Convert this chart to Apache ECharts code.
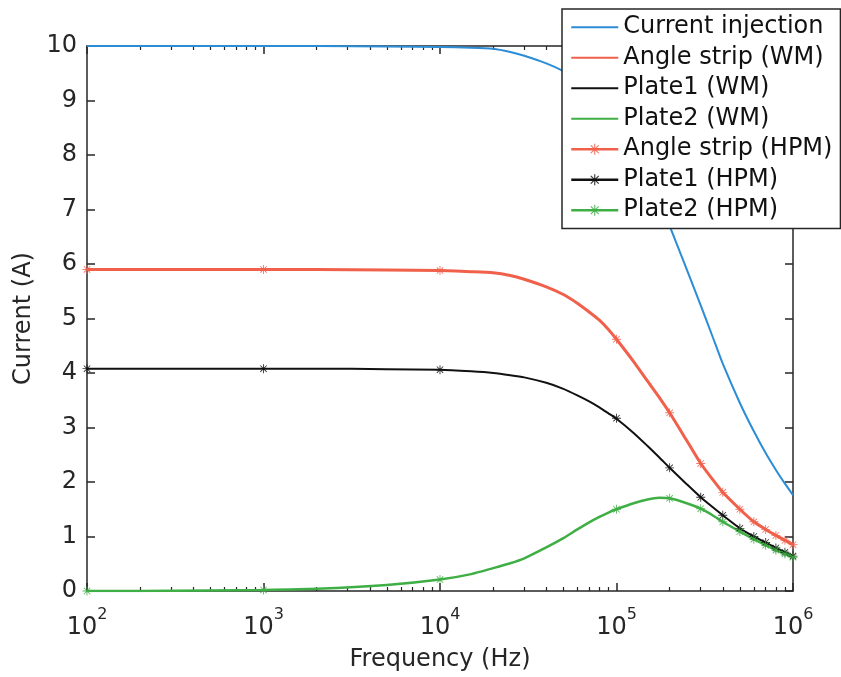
<!DOCTYPE html>
<html><head><meta charset="utf-8">
<script src="https://cdn.jsdelivr.net/npm/echarts@6/dist/echarts.min.js"></script>
<style>html,body{margin:0;padding:0;background:#fff}#c{width:841px;height:677px}</style>
</head><body><div id="c"></div>
<script>
// ---- data ----
const freq = [100,200,500,1e3,2e3,5e3,1e4,1.5e4,2e4,2.5e4,3e4,4e4,5e4,6e4,7e4,8e4,9e4,1e5,1.25e5,1.5e5,1.75e5,2e5,2.5e5,3e5,3.5e5,4e5,5e5,6e5,7e5,8e5,9e5,1e6];
const currentInjection = [10,10,10,10,10,9.99,9.98,9.97,9.95,9.89,9.82,9.68,9.54,9.40,9.25,9.10,8.93,8.75,8.25,7.70,7.18,6.70,5.90,5.24,4.67,4.17,3.45,2.93,2.53,2.22,1.97,1.76];
const angleStripWM = [5.90,5.90,5.90,5.90,5.90,5.89,5.88,5.86,5.84,5.79,5.72,5.58,5.44,5.28,5.12,4.97,4.80,4.62,4.21,3.85,3.55,3.27,2.76,2.34,2.05,1.81,1.50,1.27,1.13,1.02,0.93,0.85];
const plate1WM = [4.08,4.08,4.08,4.08,4.08,4.07,4.06,4.03,4.00,3.96,3.92,3.82,3.71,3.59,3.48,3.37,3.26,3.16,2.90,2.66,2.45,2.26,1.96,1.72,1.54,1.39,1.15,1.00,0.89,0.79,0.71,0.64];
const plate2WM = [0,0,0.01,0.02,0.04,0.11,0.21,0.31,0.42,0.51,0.60,0.80,0.97,1.13,1.26,1.36,1.44,1.50,1.61,1.68,1.71,1.70,1.61,1.51,1.39,1.27,1.09,0.95,0.84,0.75,0.68,0.62];

const freqHPM = [100,1e3,1e4,1e5,2e5,3e5,4e5,5e5,6e5,7e5,8e5,9e5,1e6];
const angleStripHPM = [5.90,5.90,5.88,4.62,3.27,2.34,1.81,1.50,1.27,1.13,1.02,0.93,0.85];
const plate1HPM = [4.08,4.08,4.06,3.17,2.26,1.72,1.39,1.15,1.00,0.89,0.79,0.71,0.64];
const plate2HPM = [0.00,0.02,0.21,1.50,1.70,1.51,1.27,1.09,0.95,0.84,0.75,0.68,0.62];

const majorTicksX = [100,1e3,1e4,1e5,1e6];
const minorMultipliers = [2,3,4,5,6,7,8,9];
const seriesNames = ['Current injection','Angle strip (WM)','Plate1 (WM)','Plate2 (WM)','Angle strip (HPM)','Plate1 (HPM)','Plate2 (HPM)'];

// ---- styling ----
const BLUE='#2B8DD6', RED='#F0604B', BLACK='#111111', GREEN='#3FAF45', AX='#262626';
const FONT='DejaVu Sans';
const star='path://M4.5,0L5.5,0L5.5,10L4.5,10Z M0,4.5L10,4.5L10,5.5L0,5.5Z M1.1,1.8L1.8,1.1L8.9,8.2L8.2,8.9Z M8.2,1.1L8.9,1.8L1.8,8.9L1.1,8.2Z';
const lineIcon='path://M0,0L47,0L47,2L0,2Z';

const minorTicksX = [];
for (let i=0;i<majorTicksX.length-1;i++) minorMultipliers.forEach(m=>minorTicksX.push(m*majorTicksX[i]));

const pairs=(xs,ys)=>xs.map((x,i)=>[x,ys[i]]);

function wm(name,ys,color,w){
  return {name,type:'line',xAxisIndex:0,yAxisIndex:0,data:pairs(freq,ys),symbol:'none',
    smooth:0.2,color,lineStyle:{color,width:w},z:3};
}
function hpm(name,ys,color){
  return {name,type:'line',xAxisIndex:0,yAxisIndex:0,data:pairs(freqHPM,ys),symbol:star,symbolSize:9,
    showSymbol:true,showAllSymbol:true,color,itemStyle:{color,opacity:0.85},lineStyle:{width:0,opacity:0},z:4};
}
const axLine={show:true,lineStyle:{color:AX,width:1.5}};
const logBase={type:'log',logBase:10,min:100,max:1e6,gridIndex:0,splitLine:{show:false}};

const option={
  animation:false,
  backgroundColor:'#fff',
  grid:{left:87,right:48,top:46,bottom:80,containLabel:false},
  legend:{
    orient:'vertical',left:562,top:9,itemGap:0,itemWidth:47,itemHeight:14,
    padding:[3,8,3,8],backgroundColor:'#fff',borderColor:AX,borderWidth:1.5,borderRadius:0,
    textStyle:{fontFamily:FONT,fontSize:24,color:'#111',lineHeight:30.5},
    data:[
      {name:seriesNames[0],icon:lineIcon},{name:seriesNames[1],icon:lineIcon},
      {name:seriesNames[2],icon:lineIcon},{name:seriesNames[3],icon:lineIcon},
      {name:seriesNames[4],lineStyle:{width:2.5,opacity:1,color:RED}},
      {name:seriesNames[5],lineStyle:{width:2.5,opacity:1,color:BLACK}},
      {name:seriesNames[6],lineStyle:{width:2.5,opacity:1,color:GREEN}}
    ]
  },
  xAxis:[
    Object.assign({},logBase,{position:'bottom',axisLine:axLine,
      axisTick:{show:true,inside:true,length:8,lineStyle:{color:AX,width:1.5},customValues:majorTicksX},
      axisLabel:{show:true,margin:16,customValues:majorTicksX,
        formatter:v=>'{b|10}{s|'+Math.round(Math.log10(v))+'}',
        rich:{b:{fontFamily:FONT,fontSize:24,color:AX,lineHeight:33,verticalAlign:'bottom'},
              s:{fontFamily:FONT,fontSize:16,color:AX,lineHeight:14,verticalAlign:'top'}}},
      name:'Frequency (Hz)',nameLocation:'middle',nameGap:57,
      nameTextStyle:{fontFamily:FONT,fontSize:24,color:AX}}),
    Object.assign({},logBase,{position:'bottom',axisLine:{show:false},
      axisTick:{show:true,inside:true,length:4,lineStyle:{color:AX,width:1.2},customValues:minorTicksX},
      axisLabel:{show:false}}),
    Object.assign({},logBase,{position:'top',axisLine:axLine,
      axisTick:{show:true,inside:true,length:8,lineStyle:{color:AX,width:1.5},customValues:majorTicksX},
      axisLabel:{show:false}}),
    Object.assign({},logBase,{position:'top',axisLine:{show:false},
      axisTick:{show:true,inside:true,length:4,lineStyle:{color:AX,width:1.2},customValues:minorTicksX},
      axisLabel:{show:false}})
  ],
  yAxis:[
    {type:'value',min:0,max:10,interval:1,position:'left',gridIndex:0,axisLine:axLine,splitLine:{show:false},
     axisTick:{show:true,inside:true,length:8,lineStyle:{color:AX,width:1.5}},
     axisLabel:{fontFamily:FONT,fontSize:24,color:AX,margin:10},
     name:'Current (A)',nameLocation:'middle',nameGap:37,nameRotate:90,
     nameTextStyle:{fontFamily:FONT,fontSize:24,color:AX}},
    {type:'value',min:0,max:10,interval:1,position:'right',gridIndex:0,axisLine:axLine,splitLine:{show:false},
     axisTick:{show:true,inside:true,length:8,lineStyle:{color:AX,width:1.5}},axisLabel:{show:false}}
  ],
  series:[
    wm(seriesNames[0],currentInjection,BLUE,2),
    wm(seriesNames[1],angleStripWM,RED,3),
    wm(seriesNames[2],plate1WM,BLACK,2),
    wm(seriesNames[3],plate2WM,GREEN,2.5),
    hpm(seriesNames[4],angleStripHPM,RED),
    hpm(seriesNames[5],plate1HPM,BLACK),
    hpm(seriesNames[6],plate2HPM,GREEN)
  ]
};
const chart=echarts.init(document.getElementById('c'),null,{renderer:'canvas'});
chart.setOption(option);
</script></body></html>
